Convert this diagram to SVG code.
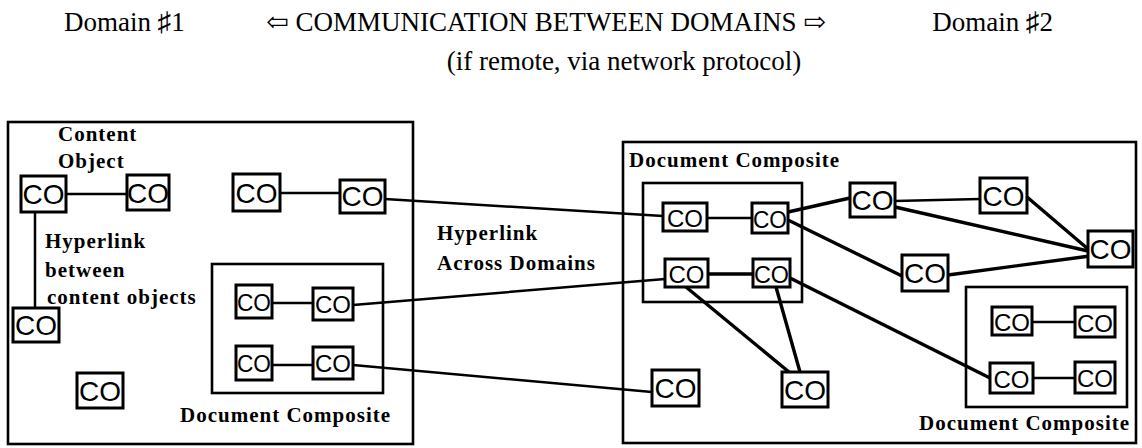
<svg xmlns="http://www.w3.org/2000/svg" width="1142" height="448" viewBox="0 0 1142 448">
  <style>
    .head { font-family: "Liberation Serif", "DejaVu Serif", serif; font-size: 27px; fill: #000; }
    .lbl { font-family: "Liberation Serif", "DejaVu Serif", serif; font-size: 21px; font-weight: bold; letter-spacing: 1px; fill: #000; }
    .frame { fill: none; stroke: #000; stroke-width: 2.6; }
    .co rect { fill: #fff; stroke: #000; stroke-width: 3; }
    .co text { font-family: "Liberation Sans", Arial, sans-serif; fill: #000; text-anchor: middle; }
    .big text { font-size: 28px; }
    .small text { font-size: 24px; }
    #links line { stroke: #000; stroke-width: 2.5; stroke-linecap: round; }
    #links line.thick { stroke-width: 3.4; }
  </style>

  <!-- heading -->
  <g id="heading">
    <text class="head" x="64" y="31">Domain ♯1</text>
    <text class="head" x="546" y="31" text-anchor="middle">⇦ COMMUNICATION BETWEEN DOMAINS ⇨</text>
    <text class="head" x="1053" y="31" text-anchor="end">Domain ♯2</text>
    <text class="head" x="624" y="70" text-anchor="middle" font-size="28">(if remote, via network protocol)</text>
  </g>

  <!-- domain frames and composites -->
  <g id="domain1">
    <rect class="frame" x="8" y="122" width="405" height="322"/>
    <text class="lbl" x="58" y="141">Content</text>
    <text class="lbl" x="58" y="168">Object</text>
    <text class="lbl" x="45" y="248">Hyperlink</text>
    <text class="lbl" x="45" y="277">between</text>
    <text class="lbl" x="47" y="304">content objects</text>
  </g>
  <g id="composite1">
    <rect class="frame" x="212" y="264" width="171" height="129"/>
    <text class="lbl" x="180" y="422">Document Composite</text>
  </g>
  <g id="domain2">
    <rect class="frame" x="623" y="142" width="513" height="301"/>
  </g>
  <g id="composite2">
    <rect class="frame" x="643" y="183" width="159" height="119"/>
    <text class="lbl" x="629" y="167">Document Composite</text>
  </g>
  <g id="composite3">
    <rect class="frame" x="966" y="287" width="161" height="120"/>
    <text class="lbl" x="919" y="430">Document Composite</text>
  </g>
  <g id="crosslabel">
    <text class="lbl" x="437" y="240">Hyperlink</text>
    <text class="lbl" x="437" y="270">Across Domains</text>
  </g>

  <!-- hyperlinks -->
  <g id="links">
    <line x1="66" y1="194" x2="127" y2="194"/>
    <line x1="35" y1="212" x2="35" y2="308"/>
    <line x1="280" y1="193" x2="340" y2="193"/>
    <line x1="272" y1="303" x2="313" y2="303"/>
    <line x1="272" y1="365" x2="313" y2="365"/>
    <line x1="385" y1="199" x2="663" y2="216"/>
    <line x1="353" y1="305" x2="665" y2="279"/>
    <line x1="353" y1="365" x2="652" y2="392"/>
    <line x1="707" y1="218" x2="752" y2="218"/>
    <line class="thick" x1="708" y1="274" x2="753" y2="274"/>
    <line class="thick" x1="788" y1="212" x2="850" y2="198"/>
    <line class="thick" x1="788" y1="220" x2="902" y2="276"/>
    <line x1="895" y1="201" x2="980" y2="199"/>
    <line class="thick" x1="895" y1="207" x2="1088" y2="251"/>
    <line class="thick" x1="1027" y1="197" x2="1088" y2="249"/>
    <line class="thick" x1="948" y1="275" x2="1090" y2="256"/>
    <line class="thick" x1="790" y1="278" x2="990" y2="378"/>
    <line class="thick" x1="686" y1="287" x2="789" y2="372"/>
    <line class="thick" x1="776" y1="287" x2="800" y2="372"/>
    <line x1="1032" y1="322" x2="1075" y2="322"/>
    <line x1="1033" y1="378" x2="1075" y2="378"/>
  </g>

  <!-- content objects -->
  <g id="co-l1" class="co big"><rect x="21" y="176" width="45" height="36"/><text x="43.5" y="204">CO</text></g>
  <g id="co-l2" class="co big"><rect x="127" y="175" width="42" height="35"/><text x="148" y="203">CO</text></g>
  <g id="co-l3" class="co big"><rect x="13" y="308" width="46" height="34"/><text x="36" y="335">CO</text></g>
  <g id="co-l4" class="co big"><rect x="77" y="373" width="46" height="35"/><text x="100" y="401">CO</text></g>
  <g id="co-l5" class="co big"><rect x="233" y="174" width="47" height="37"/><text x="256.5" y="203">CO</text></g>
  <g id="co-l6" class="co big"><rect x="340" y="180" width="45" height="33"/><text x="362.5" y="206">CO</text></g>
  <g id="co-l7" class="co small"><rect x="236" y="285" width="36" height="33"/><text x="254" y="311" textLength="34" lengthAdjust="spacingAndGlyphs">CO</text></g>
  <g id="co-l8" class="co small"><rect x="313" y="288" width="40" height="32"/><text x="333" y="313" textLength="36" lengthAdjust="spacingAndGlyphs">CO</text></g>
  <g id="co-l9" class="co small"><rect x="236" y="346" width="36" height="34"/><text x="254" y="372" textLength="34" lengthAdjust="spacingAndGlyphs">CO</text></g>
  <g id="co-l10" class="co small"><rect x="313" y="347" width="40" height="32"/><text x="333" y="372" textLength="36" lengthAdjust="spacingAndGlyphs">CO</text></g>

  <g id="co-a1" class="co small"><rect x="663" y="203" width="44" height="28"/><text x="685" y="227">CO</text></g>
  <g id="co-a2" class="co small"><rect x="752" y="203" width="36" height="30"/><text x="770" y="228" textLength="34" lengthAdjust="spacingAndGlyphs">CO</text></g>
  <g id="co-b1" class="co small"><rect x="665" y="259" width="43" height="28"/><text x="686.5" y="283">CO</text></g>
  <g id="co-b2" class="co small"><rect x="753" y="259" width="37" height="28"/><text x="771.5" y="283" textLength="35" lengthAdjust="spacingAndGlyphs">CO</text></g>
  <g id="co-c1" class="co big"><rect x="850" y="183" width="45" height="34"/><text x="872.5" y="210">CO</text></g>
  <g id="co-c2" class="co big"><rect x="980" y="178" width="47" height="35"/><text x="1003.5" y="206">CO</text></g>
  <g id="co-c3" class="co big"><rect x="1088" y="231" width="45" height="36"/><text x="1110.5" y="259">CO</text></g>
  <g id="co-c4" class="co big"><rect x="902" y="255" width="46" height="36"/><text x="925" y="283">CO</text></g>
  <g id="co-e1" class="co big"><rect x="652" y="370" width="47" height="36"/><text x="675.5" y="398">CO</text></g>
  <g id="co-e2" class="co big"><rect x="782" y="372" width="46" height="35"/><text x="805" y="400">CO</text></g>
  <g id="co-d1" class="co small"><rect x="992" y="307" width="40" height="28"/><text x="1012" y="331" textLength="36" lengthAdjust="spacingAndGlyphs">CO</text></g>
  <g id="co-d2" class="co small"><rect x="1075" y="307" width="40" height="30"/><text x="1095" y="332" textLength="36" lengthAdjust="spacingAndGlyphs">CO</text></g>
  <g id="co-d3" class="co small"><rect x="990" y="363" width="43" height="30"/><text x="1011.5" y="388">CO</text></g>
  <g id="co-d4" class="co small"><rect x="1075" y="362" width="40" height="31"/><text x="1095" y="387" textLength="36" lengthAdjust="spacingAndGlyphs">CO</text></g>
</svg>
